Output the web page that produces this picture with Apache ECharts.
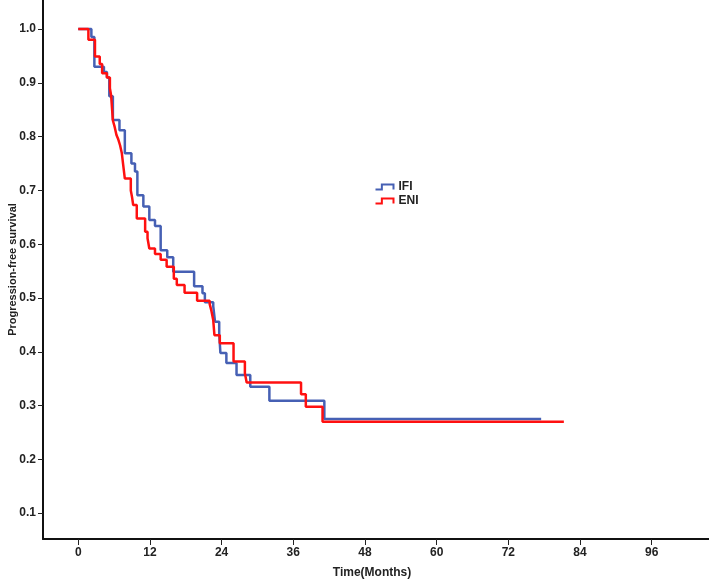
<!DOCTYPE html>
<html>
<head>
<meta charset="utf-8">
<script src="https://cdn.jsdelivr.net/npm/echarts@6/dist/echarts.min.js"></script>
<style>
  html, body { margin: 0; padding: 0; background: #fff; }
  #chart { width: 709px; height: 583px; }
</style>
</head>
<body>
<div id="chart"></div>
<script>
// Kaplan-Meier steps
const ifiTime = [0, 2.2, 2.7, 4.3, 4.8, 5.2, 5.8, 6.9, 7.8, 8.9, 9.5, 9.9, 10.9, 11.9, 12.85, 13.8, 14.9, 15.9, 19.4, 20.8, 21.2, 22.6, 22.9, 23.6, 23.8, 24.8, 26.5, 28.8, 32.0, 41.2, 77.5]
const ifiSurv = [1.0, 0.985, 0.93, 0.92, 0.91, 0.875, 0.831, 0.812, 0.769, 0.75, 0.735, 0.691, 0.67, 0.645, 0.634, 0.589, 0.576, 0.549, 0.522, 0.509, 0.492, 0.485, 0.456, 0.434, 0.398, 0.379, 0.357, 0.335, 0.309, 0.275, 0.275]

const eniTime = [0, 1.7, 2.8, 3.6, 4.0, 4.8, 5.3, 5.5, 5.8, 6.1, 6.4, 6.7, 7.0, 7.3, 7.5, 7.8, 8.8, 9.0, 9.2, 9.8, 11.2, 11.6, 11.9, 12.85, 13.8, 14.8, 16.0, 16.5, 17.8, 19.9, 22.0, 22.3, 22.6, 22.8, 23.7, 26.0, 27.9, 28.2, 37.3, 38.1, 40.9, 81.3]
const eniSurv = [1.0, 0.98, 0.949, 0.935, 0.918, 0.91, 0.89, 0.877, 0.83, 0.818, 0.803, 0.795, 0.784, 0.769, 0.75, 0.722, 0.70, 0.688, 0.673, 0.648, 0.623, 0.611, 0.592, 0.582, 0.571, 0.558, 0.536, 0.524, 0.51, 0.495, 0.489, 0.476, 0.459, 0.431, 0.416, 0.382, 0.36, 0.343, 0.321, 0.298, 0.27, 0.27]

const xTicks = [0, 12, 24, 36, 48, 60, 72, 84, 96]
const yTicks = [0.1, 0.2, 0.3, 0.4, 0.5, 0.6, 0.7, 0.8, 0.9, 1.0]

const blue = '#4660b4'
const red = '#ff1010'
const font = 'Liberation Sans, Arial, sans-serif'

function zip(a, b) {
  return a.map((t, i) => [t, b[i]])
}

const chart = echarts.init(document.getElementById('chart'))

const stepIcon = 'path://M0,10 L6,10 L6,0 L17,0 L17,10'

const option = {
  animation: false,
  grid: { left: 43, right: 0, top: 0, bottom: 44, containLabel: false, outerBoundsMode: 'none' },
  legend: {
    orient: 'vertical',
    left: 373,
    top: 181,
    padding: 0,
    itemWidth: 18,
    itemHeight: 5,
    itemGap: 2,
    symbolKeepAspect: false,
    textStyle: { fontFamily: font, fontSize: 12, fontWeight: 'bold', color: '#222' },
    data: [
      { name: 'IFI', icon: stepIcon, itemStyle: { color: 'none', borderColor: blue, borderWidth: 2 } },
      { name: 'ENI', icon: stepIcon, itemStyle: { color: 'none', borderColor: red, borderWidth: 2 } }
    ]
  },
  xAxis: {
    type: 'value',
    min: -5.9,
    max: 105.6,
    name: 'Time(Months)',
    nameLocation: 'middle',
    nameGap: 28,
    nameMoveOverlap: false,
    nameTextStyle: { fontFamily: font, fontSize: 12, fontWeight: 'bold', color: '#222', padding: [0, 8, 0, 0] },
    splitLine: { show: false },
    axisLine: { onZero: false, lineStyle: { color: '#111', width: 2 } },
    axisTick: { show: true, length: 6, customValues: xTicks, lineStyle: { color: '#222', width: 1 } },
    axisLabel: { customValues: xTicks, margin: 8, fontFamily: font, fontSize: 12, fontWeight: 'bold', color: '#222' }
  },
  yAxis: {
    type: 'value',
    min: 0.052,
    max: 1.054,
    name: 'Progression-free survival',
    nameLocation: 'middle',
    nameGap: 25,
    nameMoveOverlap: false,
    nameTextStyle: { fontFamily: font, fontSize: 11, fontWeight: 'bold', color: '#222' },
    splitLine: { show: false },
    axisLine: { show: true, onZero: false, lineStyle: { color: '#111', width: 2 } },
    axisTick: { show: true, length: 5, customValues: yTicks, lineStyle: { color: '#222', width: 1 } },
    axisLabel: {
      customValues: yTicks,
      margin: 7,
      fontFamily: font,
      fontSize: 12,
      fontWeight: 'bold',
      color: '#222',
      formatter: v => v.toFixed(1)
    }
  },
  series: [
    {
      name: 'IFI',
      type: 'line',
      step: 'end',
      showSymbol: false,
      color: blue,
      lineStyle: { color: blue, width: 2.5 },
      data: zip(ifiTime, ifiSurv)
    },
    {
      name: 'ENI',
      type: 'line',
      step: 'end',
      showSymbol: false,
      color: red,
      lineStyle: { color: red, width: 2.5 },
      data: zip(eniTime, eniSurv)
    }
  ]
}

chart.setOption(option)
window.addEventListener('resize', () => {
  chart.resize()
})
</script>
</body>
</html>
